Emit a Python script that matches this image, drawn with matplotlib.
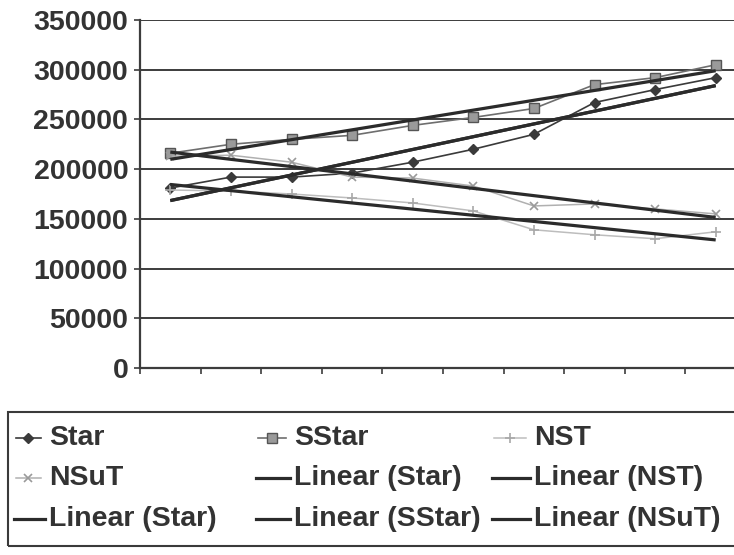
import numpy as np
import matplotlib
matplotlib.use("Agg")
import matplotlib.pyplot as plt
from matplotlib.lines import Line2D
from matplotlib.patches import Rectangle

# ---- data ----
categories = list(range(1, 11))
star = [181000, 192000, 192000, 196000, 207000, 220000, 235000, 267000, 280000, 292000]
sstar = [216000, 225000, 230000, 234000, 244000, 252000, 261000, 285000, 292000, 305000]
nst = [179000, 178000, 175000, 171000, 166000, 158000, 139000, 134000, 130000, 137000]
nsut = [213000, 214000, 207000, 192000, 191000, 183000, 163000, 165000, 160000, 155000]
y_ticks = [0, 50000, 100000, 150000, 200000, 250000, 300000, 350000]
series_names = ["Star", "SStar", "NST", "NSuT"]

plt.rcParams['font.family'] = ['Liberation Sans', 'DejaVu Sans']
plt.rcParams['font.weight'] = 'bold'

W, H = 734, 555
fig = plt.figure(figsize=(W / 100, H / 100), dpi=100)
fig.patch.set_facecolor('white')

def fx(px):
    return px / W

def fy(py):
    return 1 - py / H

ax = fig.add_axes([fx(140), fy(368), 606 / W, 348 / H])
ax.set_facecolor('white')

x = np.arange(len(categories))
text_col = '#333333'
grid_col = '#3c3c3c'
trend_col = '#2b2b2b'

for yv in y_ticks[1:]:
    ax.axhline(yv, color=grid_col, lw=1.4, zorder=1)

styles = {
    "Star": dict(color='#3a3a3a', marker='D', ms=5.5, mfc='#3a3a3a', mec='#3a3a3a', lw=1.2),
    "SStar": dict(color='#6e6e6e', marker='s', ms=6.5, mfc='#9a9a9a', mec='#555555', lw=1.2),
    "NST": dict(color='#bdbdbd', marker='+', ms=7, mfc='#b0b0b0', mec='#a8a8a8', lw=1.1, mew=1.2),
    "NSuT": dict(color='#b0b0b0', marker='x', ms=6, mfc='#a0a0a0', mec='#9a9a9a', lw=1.1, mew=1.2),
}
data = {"Star": star, "SStar": sstar, "NST": nst, "NSuT": nsut}

for name in series_names:
    ax.plot(x, data[name], zorder=3, **styles[name])

# linear trend lines (order as in legend: Star, NST, Star, SStar, NSuT)
trend_order = ["Star", "NST", "Star", "SStar", "NSuT"]
for name in trend_order:
    k, b = np.polyfit(x, data[name], 1)
    ax.plot(x, k * x + b, color=trend_col, lw=2.3, zorder=4, solid_capstyle='butt')

ax.set_xlim(-0.5, len(categories) - 0.5)
ax.set_ylim(0, 350000)
ax.set_yticks(y_ticks)
ax.set_yticklabels([str(v) for v in y_ticks], fontsize=20.5, fontweight='bold', color=text_col)
ax.set_xticks(np.arange(-0.5, len(categories), 1))
ax.set_xticklabels([])
ax.tick_params(axis='y', direction='out', length=4.5, width=1.2, color=grid_col, pad=4)
ax.tick_params(axis='x', direction='out', length=4.5, width=1.2, color=grid_col)
for s in ['top', 'right']:
    ax.spines[s].set_visible(False)
for s in ['left', 'bottom']:
    ax.spines[s].set_color(grid_col)
    ax.spines[s].set_linewidth(1.6)

# ---- legend (drawn manually to match the scanned layout) ----
box = Rectangle((fx(8), fy(546)), fx(740) - fx(8), fy(412) - fy(546),
                transform=fig.transFigure, fill=False, ec='#3a3a3a', lw=1.5)
fig.add_artist(box)

legend_labels = ["Star", "SStar", "NST",
                 "NSuT", "Linear (Star)", "Linear (NST)",
                 "Linear (Star)", "Linear (SStar)", "Linear (NSuT)"]
legend_styles = [styles["Star"], styles["SStar"], styles["NST"],
                 styles["NSuT"], None, None, None, None, None]
row_y = [438, 478, 519]
col_h = [(14, 45), (256, 290), (492, 530)]
for i, (lab, st) in enumerate(zip(legend_labels, legend_styles)):
    r, c = divmod(i, 3)
    x0, x1 = col_h[c]
    yy = fy(row_y[r])
    if st is None:
        fig.add_artist(Line2D([fx(x0), fx(x1)], [yy, yy], transform=fig.transFigure,
                              color=trend_col, lw=2.3))
    else:
        st2 = dict(st)
        fig.add_artist(Line2D([fx(x0 + 2), fx(x1 - 4)], [yy, yy], transform=fig.transFigure,
                              markevery=[1] if False else None, **{k: v for k, v in st2.items() if k not in ('marker', 'ms', 'mfc', 'mec', 'mew')}))
        fig.add_artist(Line2D([fx((x0 + x1) / 2 - 1)], [yy], transform=fig.transFigure,
                              linestyle='none', marker=st2['marker'], ms=st2['ms'],
                              mfc=st2['mfc'], mec=st2['mec'], mew=st2.get('mew', 1.0)))
    fig.text(fx(x1 + 4), yy, lab, fontsize=20.5, fontweight='bold', color=text_col,
             ha='left', va='center')

fig.savefig('out.png', dpi=100, facecolor='white')
